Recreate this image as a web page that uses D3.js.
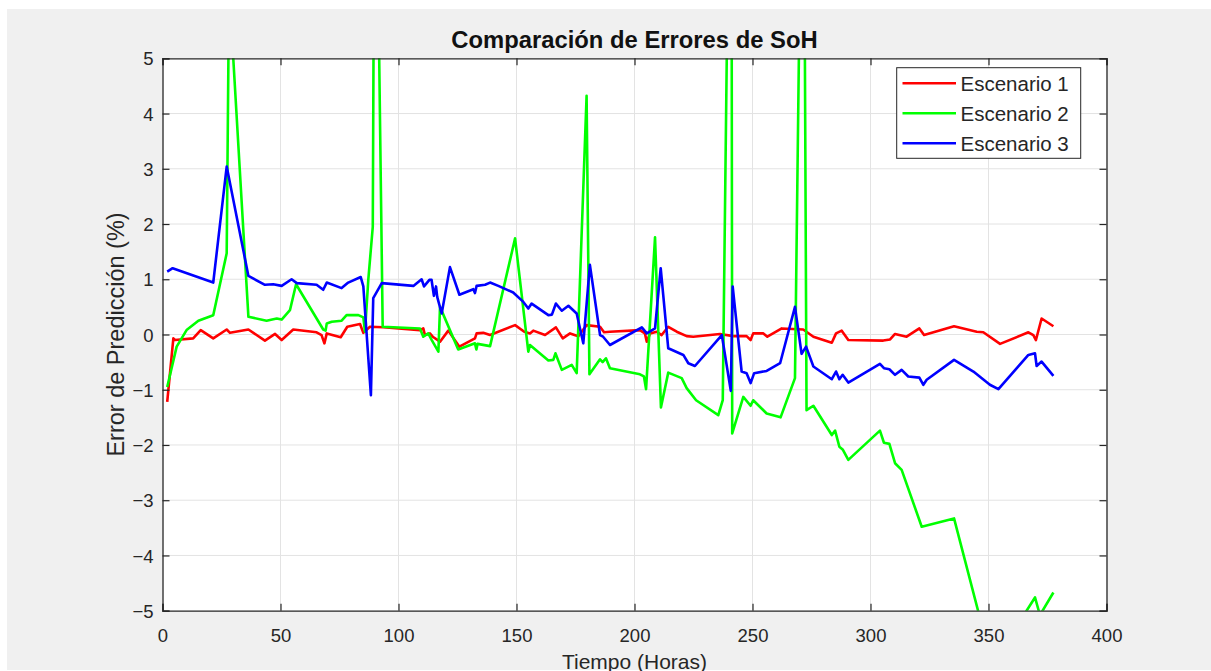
<!DOCTYPE html>
<html lang="es">
<head>
<meta charset="utf-8">
<title>Comparación de Errores de SoH</title>
<script src="https://d3js.org/d3.v7.min.js"></script>
<style>
  body { margin: 0; background: #ffffff; }
  svg text { font-family: "Liberation Sans", Arial, sans-serif; }
</style>
</head>
<body>
<svg id="chart" width="1211" height="671"></svg>
<script>
// Datos: tiempo (horas) y error (%)
const tiempo1 = [2.0,4.6,5.3,13,16.2,21.5,27.2,28.6,36.4,43.4,47.7,50.5,55.4,65.3,67.4,68.6,69.6,75.5,78.3,83.7,85.1,87.9,93.6,109.1,110.5,111.2,113.3,114.5,117.6,121.1,125.8,132.4,133.1,135.9,138.8,149.4,153.3,155.7,157.1,162.1,166.7,169.6,172.7,176.2,179.7,185.4,187.1,189.6,202.3,204.4,205.2,206.6,209.4,211.5,214.3,217.9,222.1,224.9,236.2,241.9,247.5,249.2,250.3,254.6,256.3,262.4,271.5,275.8,283.6,285.4,287.8,290.6,305.4,308.3,310.4,315.3,320.7,322.7,335.4,345,347.8,354.9,366.9,369,370.1,372.5,377.5];
const escenario1 = [-1.22,-0.07,-0.10,-0.07,0.08,-0.07,0.09,0.03,0.09,-0.11,0.01,-0.10,0.09,0.04,-0.01,-0.16,0.02,-0.05,0.14,0.19,0.03,0.14,0.13,0.08,0.11,-0.01,0.02,-0.04,-0.13,0.07,-0.22,-0.07,0.02,0.03,-0.01,0.17,0.05,0.02,0.07,-0.01,0.13,-0.07,0.02,-0.03,0.17,0.14,0.04,0.05,0.08,0.02,-0.13,0.02,0.05,-0.01,0.14,0.05,-0.03,-0.04,0.01,-0.03,-0.03,-0.10,0.02,0.02,-0.04,0.11,0.09,-0.04,-0.15,0.02,0.07,-0.10,-0.11,-0.09,0.01,-0.04,0.11,-0.01,0.15,0.05,0.04,-0.17,0.04,-0.01,-0.10,0.29,0.15];

const tiempo2 = [2.0,6.0,10.2,15.2,21.5,27.2,28.2,36.4,44.1,48.4,50.5,54.0,56.6,68.1,69.1,69.6,71.7,75.9,78.0,83.0,85.1,85.8,87.2,89.1,90.0,93.3,109.1,110.5,112.6,114.1,116.9,117.6,125.3,132.4,133.0,133.5,138.8,149.4,155.0,155.7,163.5,165.6,166.5,169.2,173.4,175.5,179.7,180.9,185.4,186.5,187.9,189.6,202.3,204.0,204.9,208.7,211.2,214.3,220.0,222.1,226.1,235.5,237.4,241.0,241.4,246.1,249.2,250.3,256.0,261.9,268.0,271.5,272.9,275.8,283.6,285.0,286.8,288.2,290.6,304.0,305.7,308.0,310.4,313.2,321.7,335.4,345.7,348,355,369.7,371.8,377.5];
const escenario2 = [-0.95,-0.22,0.08,0.25,0.35,1.47,6.3,0.32,0.25,0.29,0.27,0.44,0.91,0.09,0.07,0.20,0.23,0.25,0.35,0.35,0.31,0.05,0.99,1.95,11,0.14,0.11,-0.04,0.02,-0.10,-0.31,0.50,-0.27,-0.16,-0.27,-0.17,-0.21,1.74,-0.31,-0.19,-0.47,-0.46,-0.34,-0.64,-0.55,-0.70,4.32,-0.72,-0.45,-0.50,-0.43,-0.61,-0.72,-0.76,-0.99,1.76,-1.32,-0.69,-0.79,-0.97,-1.19,-1.46,-1.19,12,-1.79,-1.13,-1.29,-1.19,-1.43,-1.50,-0.79,11.5,-1.37,-1.29,-1.82,-1.74,-2.03,-2.08,-2.27,-1.74,-1.96,-1.98,-2.33,-2.45,-3.48,-3.33,-5.02,-5.45,-5.75,-4.76,-5.08,-4.67];

const tiempo3 = [2.0,4.3,21.5,27.2,36.4,43.4,46.9,50.5,54.7,56.9,65.3,68.1,69.6,75.9,78.7,84.0,85.1,88.3,89.3,92.9,106.3,109.8,110.8,113.1,114.0,115.0,115.9,116.4,118.3,121.8,125.8,131.7,132.4,133.1,136.7,138.8,142.3,148.6,152.9,155.0,156.4,163.5,165.0,166.7,169.2,172.0,175.5,178.3,181.1,185.4,186.7,189.6,203.1,205.2,208.7,211.1,214.3,220.7,222.8,225.6,237.0,240.8,241.6,245.4,247.5,249.2,250.7,256.0,261.7,268.0,270.8,272.7,275.8,283.6,285.4,286.8,288.2,290.6,304.0,305.7,308.0,310.4,313.2,316.0,320.7,322.4,323.8,335.4,343.6,350.6,354.2,366.9,369.7,370.4,372.5,377.5];
const escenario3 = [1.14,1.20,0.94,3.04,1.06,0.90,0.91,0.88,1.00,0.93,0.90,0.81,0.94,0.84,0.94,1.04,0.87,-1.10,0.66,0.93,0.88,1.00,0.87,0.99,0.99,0.70,0.87,0.68,0.38,1.22,0.72,0.82,0.75,0.88,0.90,0.94,0.88,0.76,0.59,0.47,0.56,0.35,0.36,0.56,0.43,0.52,0.38,-0.16,1.26,-0.01,-0.04,-0.19,0.13,0.02,0.11,1.20,-0.25,-0.37,-0.52,-0.57,-0.01,-1.02,0.87,-0.67,-0.70,-0.88,-0.70,-0.66,-0.52,0.50,-0.35,-0.22,-0.58,-0.81,-0.67,-0.81,-0.73,-0.87,-0.53,-0.61,-0.63,-0.73,-0.64,-0.76,-0.78,-0.91,-0.82,-0.46,-0.67,-0.91,-0.99,-0.37,-0.34,-0.57,-0.49,-0.75];

const nombres = ["Escenario 1", "Escenario 2", "Escenario 3"];
const colores = ["#ff0000", "#00ff00", "#0000ff"];
const xTicks = [0, 50, 100, 150, 200, 250, 300, 350, 400];
const yTicks = [-5, -4, -3, -2, -1, 0, 1, 2, 3, 4, 5];

const series = [
  tiempo1.map((t, i) => [t, escenario1[i]]),
  tiempo2.map((t, i) => [t, escenario2[i]]),
  tiempo3.map((t, i) => [t, escenario3[i]])
];

const svg = d3.select("#chart");
const W = 1211, H = 671;
const plot = { left: 162.5, right: 1106.5, top: 58.3, bottom: 610.7 };

// fondo de la figura
svg.append("rect").attr("x", 7).attr("y", 9).attr("width", W - 7).attr("height", H - 10).attr("fill", "#f0f0f0");
svg.append("rect")
  .attr("x", plot.left).attr("y", plot.top)
  .attr("width", plot.right - plot.left).attr("height", plot.bottom - plot.top)
  .attr("fill", "#ffffff");

const x = d3.scaleLinear().domain([0, 400]).range([plot.left, plot.right]);
const y = d3.scaleLinear().domain([-5, 5]).range([plot.bottom, plot.top]);

// rejilla
const grid = svg.append("g").attr("stroke", "#e3e3e3").attr("stroke-width", 1);
grid.selectAll("line.gx").data(xTicks.slice(1, -1)).enter().append("line")
  .attr("x1", d => x(d)).attr("x2", d => x(d)).attr("y1", plot.top).attr("y2", plot.bottom);
grid.selectAll("line.gy").data(yTicks.slice(1, -1)).enter().append("line")
  .attr("x1", plot.left).attr("x2", plot.right).attr("y1", d => y(d)).attr("y2", d => y(d));

// líneas con recorte
svg.append("clipPath").attr("id", "clip").append("rect")
  .attr("x", plot.left).attr("y", plot.top)
  .attr("width", plot.right - plot.left).attr("height", plot.bottom - plot.top);

const line = d3.line().x(d => x(d[0])).y(d => y(d[1]));
svg.append("g").attr("clip-path", "url(#clip)")
  .selectAll("path").data(series).enter().append("path")
  .attr("d", line)
  .attr("fill", "none")
  .attr("stroke", (d, i) => colores[i])
  .attr("stroke-width", 2.6)
  .attr("stroke-linejoin", "round");

// ejes (ticks hacia dentro, caja completa)
const tickLen = 7;
const axisColor = "#262626";
const fs = 18.5;

const xAxis = svg.append("g").attr("transform", `translate(0,${plot.bottom})`)
  .call(d3.axisBottom(x).tickValues(xTicks).tickSize(-tickLen).tickPadding(tickLen + 11));
const yAxis = svg.append("g").attr("transform", `translate(${plot.left},0)`)
  .call(d3.axisLeft(y).tickValues(yTicks).tickSize(-tickLen).tickPadding(9).tickFormat(d3.format("d")));
const xTop = svg.append("g").attr("transform", `translate(0,${plot.top})`)
  .call(d3.axisTop(x).tickValues(xTicks).tickSize(-tickLen).tickFormat(""));
const yRight = svg.append("g").attr("transform", `translate(${plot.right},0)`)
  .call(d3.axisRight(y).tickValues(yTicks).tickSize(-tickLen).tickFormat(""));

[xAxis, yAxis, xTop, yRight].forEach(g => {
  g.select(".domain").attr("stroke", axisColor).attr("stroke-width", 1.3);
  g.selectAll(".tick line").attr("stroke", axisColor).attr("stroke-width", 1.2);
  g.selectAll(".tick text")
    .attr("fill", axisColor)
    .style("font-family", "'Liberation Sans', Arial, sans-serif")
    .style("font-size", fs + "px");
});
yAxis.selectAll(".tick text").attr("dy", "0.36em");

// títulos
svg.append("text")
  .attr("x", 634.5).attr("y", 48)
  .attr("text-anchor", "middle")
  .attr("font-weight", "bold").attr("font-size", 23.8)
  .attr("fill", "#111")
  .text("Comparación de Errores de SoH");

svg.append("text")
  .attr("x", (plot.left + plot.right) / 2).attr("y", 669)
  .attr("text-anchor", "middle")
  .attr("font-size", 21).attr("fill", axisColor)
  .text("Tiempo (Horas)");

svg.append("text")
  .attr("transform", `translate(124,${(plot.top + plot.bottom) / 2}) rotate(-90)`)
  .attr("text-anchor", "middle")
  .attr("font-size", 23.5).attr("fill", axisColor)
  .text("Error de Predicción (%)");

// leyenda
const legend = svg.append("g");
legend.append("rect")
  .attr("x", 896.7).attr("y", 67.7).attr("width", 184).attr("height", 90.6)
  .attr("fill", "#ffffff").attr("stroke", axisColor).attr("stroke-width", 1);
const item = legend.selectAll("g.item").data(nombres).enter().append("g")
  .attr("transform", (d, i) => `translate(902.5,${83.3 + i * 30})`);
item.append("line")
  .attr("x1", 0).attr("x2", 53.5)
  .attr("stroke", (d, i) => colores[i]).attr("stroke-width", 2.6);
item.append("text")
  .attr("x", 58).attr("dy", "0.36em")
  .attr("font-size", 20.5).attr("fill", axisColor)
  .text(d => d);
</script>
</body>
</html>
